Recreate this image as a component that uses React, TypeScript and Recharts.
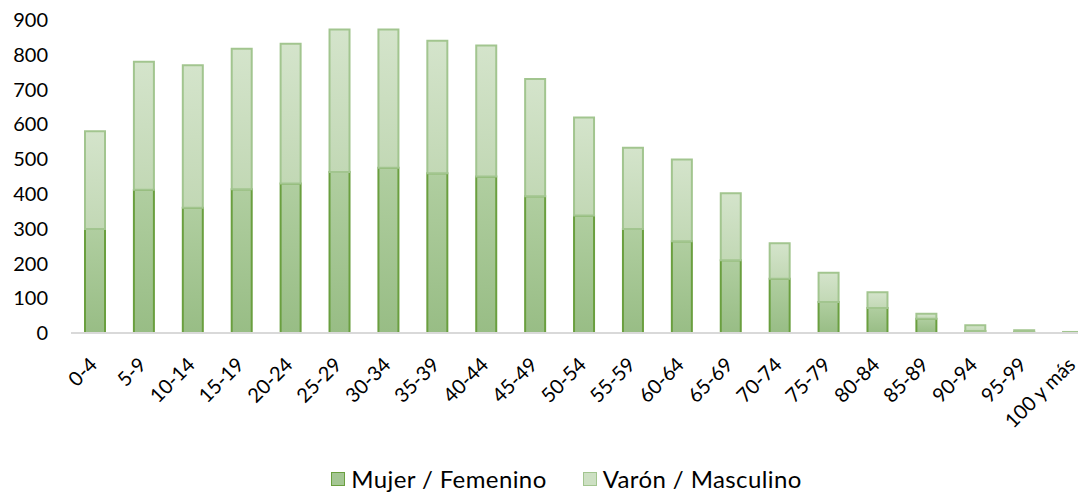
import React from "react";
import { BarChart, Bar, XAxis, YAxis, Legend } from "recharts";

const categories = ["0-4","5-9","10-14","15-19","20-24","25-29","30-34","35-39","40-44","45-49","50-54","55-59","60-64","65-69","70-74","75-79","80-84","85-89","90-94","95-99","100 y más"];
const mujer = [299, 412, 360, 413, 430, 463, 475, 459, 450, 393, 338, 299, 264, 209, 156, 89, 72, 41, 6, 2, 1];
const varon = [281, 368, 410, 404, 402, 410, 398, 381, 377, 337, 282, 234, 235, 193, 102, 84, 45, 14, 16, 6, 2];
const yTicks = [0, 100, 200, 300, 400, 500, 600, 700, 800, 900];

const data = categories.map((c, i) => ({ cat: c, mujer: mujer[i], varon: varon[i] }));

const FONT = "Lato, 'Open Sans', sans-serif";

const XTick = (props: any) => {
  const { x, y, payload } = props;
  return (
    <g transform={`translate(${x + 3},${y + 25})`}>
      <text x={0} y={0} textAnchor="end" transform="rotate(-45)" fill="#000" fontSize={20} fontFamily={FONT}>
        {payload.value}
      </text>
    </g>
  );
};

const LegendContent = () => (
  <div style={{ width: 1078, boxSizing: "border-box", paddingLeft: 39, display: "flex", justifyContent: "center", alignItems: "center", fontFamily: FONT, fontSize: 24, color: "#000", letterSpacing: 0.4 }}>
    <span style={{ display: "inline-flex", alignItems: "center", marginRight: 36 }}>
      <span style={{ width: 12, height: 12, background: "#a4c693", border: "1.5px solid #6a9f3f", marginRight: 6 }} />
      Mujer / Femenino
    </span>
    <span style={{ display: "inline-flex", alignItems: "center" }}>
      <span style={{ width: 12, height: 12, background: "#cde0c3", border: "1.5px solid #a2c58f", marginRight: 6 }} />
      Varón / Masculino
    </span>
  </div>
);

export default function App() {
  return (
    <div style={{ width: 1078, height: 485, overflow: "hidden" }}>
      <BarChart width={1090} height={485} data={data} margin={{ top: 12, right: 0, left: 0, bottom: 0 }}>
        <defs>
          <linearGradient id="gF" x1="0" y1="0" x2="0" y2="1">
            <stop offset="0%" stopColor="#b0cea0" />
            <stop offset="100%" stopColor="#98bd85" />
          </linearGradient>
          <linearGradient id="gM" x1="0" y1="0" x2="0" y2="1">
            <stop offset="0%" stopColor="#d4e4cb" />
            <stop offset="100%" stopColor="#c2d8b5" />
          </linearGradient>
        </defs>
        <XAxis dataKey="cat" interval={0} tickLine={false} axisLine={{ stroke: "#d9d9d9", strokeWidth: 2 }} tick={<XTick />} height={131} />
        <YAxis domain={[0, 900]} ticks={yTicks} width={63} axisLine={false} tickLine={false} tick={{ fill: "#000", fontSize: 20, fontFamily: FONT }} tickMargin={17} interval={0} />
        <Legend verticalAlign="bottom" align="left" content={<LegendContent />} />
        <Bar dataKey="mujer" stackId="a" barSize={20} fill="url(#gF)" stroke="#6a9f3f" strokeWidth={2} isAnimationActive={false} />
        <Bar dataKey="varon" stackId="a" barSize={20} fill="url(#gM)" stroke="#a2c58f" strokeWidth={2} isAnimationActive={false} />
      </BarChart>
    </div>
  );
}
